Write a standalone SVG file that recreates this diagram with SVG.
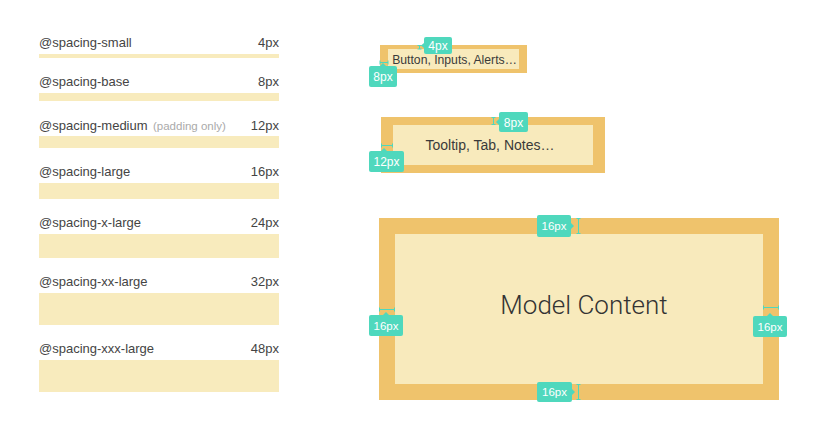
<svg xmlns="http://www.w3.org/2000/svg" width="820" height="448" viewBox="0 0 820 448">
<defs>
<style>
.lbl{font-family:"Liberation Sans",Arial,sans-serif;font-size:13px;fill:#444}
.val{font-family:"Liberation Sans",Arial,sans-serif;font-size:13px;fill:#444;text-anchor:end}
.note{font-family:"Liberation Sans",Arial,sans-serif;font-size:11.5px;fill:#aaa}
.bar{fill:#f8ebbd}
.outer{fill:#efc36c}
.inner{fill:#f8eabc}
.txt{font-family:"Liberation Sans",Arial,sans-serif;fill:#3a3a3a;text-anchor:middle}
.big{font-family:Roboto,"Liberation Sans",Arial,sans-serif;font-weight:300;fill:#333;text-anchor:middle}
.badge{fill:#4fd8bd}
.btxt{font-family:"Liberation Sans",Arial,sans-serif;font-size:12px;fill:#fff;text-anchor:middle}
.btxt2{font-family:"Liberation Sans",Arial,sans-serif;font-size:11.5px;fill:#fff;text-anchor:middle}
.mk{stroke:#4fd8bd;stroke-width:1;fill:none}
</style>
</defs>
<rect width="820" height="448" fill="#fff"/>

<g id="spacing-scale">
<g id="spacing-small"><text class="lbl" x="39" y="47">@spacing-small</text><text class="val" x="279" y="47">4px</text><rect class="bar" x="39" y="54" width="240" height="4"/></g>
<g id="spacing-base"><text class="lbl" x="39" y="86">@spacing-base</text><text class="val" x="279" y="86">8px</text><rect class="bar" x="39" y="93" width="240" height="8"/></g>
<g id="spacing-medium"><text class="lbl" x="39" y="130">@spacing-medium</text><text class="note" x="153" y="130">(padding only)</text><text class="val" x="279" y="130">12px</text><rect class="bar" x="39" y="136" width="240" height="12"/></g>
<g id="spacing-large"><text class="lbl" x="39" y="176">@spacing-large</text><text class="val" x="279" y="176">16px</text><rect class="bar" x="39" y="183" width="240" height="16"/></g>
<g id="spacing-x-large"><text class="lbl" x="39" y="227">@spacing-x-large</text><text class="val" x="279" y="227">24px</text><rect class="bar" x="39" y="234" width="240" height="24"/></g>
<g id="spacing-xx-large"><text class="lbl" x="39" y="286">@spacing-xx-large</text><text class="val" x="279" y="286">32px</text><rect class="bar" x="39" y="293" width="240" height="32"/></g>
<g id="spacing-xxx-large"><text class="lbl" x="39" y="353">@spacing-xxx-large</text><text class="val" x="279" y="353">48px</text><rect class="bar" x="39" y="360" width="240" height="32"/></g>
</g>

<g id="box-small">
<rect class="outer" x="380" y="45" width="147" height="28"/>
<rect class="inner" x="388" y="49" width="131" height="20"/>
<text class="txt" x="454.5" y="64" font-size="12.2">Button, Inputs, Alerts…</text>
</g>
<g id="box-medium">
<rect class="outer" x="381" y="117" width="224" height="56"/>
<rect class="inner" x="393" y="125" width="200" height="40"/>
<text class="txt" x="490" y="150" font-size="14">Tooltip, Tab, Notes…</text>
</g>
<g id="box-large">
<rect class="outer" x="379" y="218" width="400" height="182"/>
<rect class="inner" x="395" y="234" width="368" height="150"/>
<text class="big" x="584" y="314" font-size="26">Model Content</text>
</g>

<g id="measures">
<path class="mk" d="M419.5 45.5V49M417.5 45.5h4M417.5 49h4"/>
<path class="mk" d="M380 62.5h8M380 60.5v4M388 60.5v4"/>
<path class="mk" d="M493.5 117v8M491.5 117.5h4M491.5 124.5h4"/>
<path class="mk" d="M381 145.5h12M381.5 143.5v4M392.5 143.5v4"/>
<path class="mk" d="M578.5 218v16M576.5 218.5h4M576.5 233.5h4"/>
<path class="mk" d="M379 309.5h16M379.5 307.5v4M394.5 307.5v4"/>
<path class="mk" d="M763 307.5h16M763.5 305.5v4M778.5 305.5v4"/>
<path class="mk" d="M578.5 384v16M576.5 384.5h4M576.5 399.5h4"/>
</g>

<g id="badges">
<g id="badge-4px"><rect class="badge" x="424" y="37" width="28" height="17" rx="2"/><path class="badge" d="M424 43l-3 2.5 3 2.5z"/><text class="btxt" x="438" y="50">4px</text></g>
<g id="badge-8px-a"><rect class="badge" x="369" y="66" width="28" height="21" rx="2"/><path class="badge" d="M380 66l3-3 3 3z"/><text class="btxt" x="383" y="81">8px</text></g>
<g id="badge-8px-b"><rect class="badge" x="499" y="112" width="29" height="20" rx="2"/><path class="badge" d="M499 119l-3 3 3 3z"/><text class="btxt" x="513.5" y="126.5">8px</text></g>
<g id="badge-12px"><rect class="badge" x="369" y="151" width="35" height="21" rx="2"/><path class="badge" d="M381 151l3-3 3 3z"/><text class="btxt" x="386.5" y="166">12px</text></g>
<g id="badge-16px-top"><rect class="badge" x="537" y="215" width="34" height="22" rx="2"/><path class="badge" d="M571 223l3 3-3 3z"/><text class="btxt2" x="554" y="230">16px</text></g>
<g id="badge-16px-left"><rect class="badge" x="369" y="315" width="34" height="21" rx="2"/><path class="badge" d="M383 315l3-3 3 3z"/><text class="btxt2" x="386" y="330">16px</text></g>
<g id="badge-16px-right"><rect class="badge" x="753" y="316" width="34" height="21" rx="2"/><path class="badge" d="M767 316l3-3 3 3z"/><text class="btxt2" x="770" y="331">16px</text></g>
<g id="badge-16px-bottom"><rect class="badge" x="537" y="382" width="35" height="20" rx="2"/><path class="badge" d="M572 389l3 3-3 3z"/><text class="btxt2" x="554.5" y="396">16px</text></g>
</g>
</svg>
